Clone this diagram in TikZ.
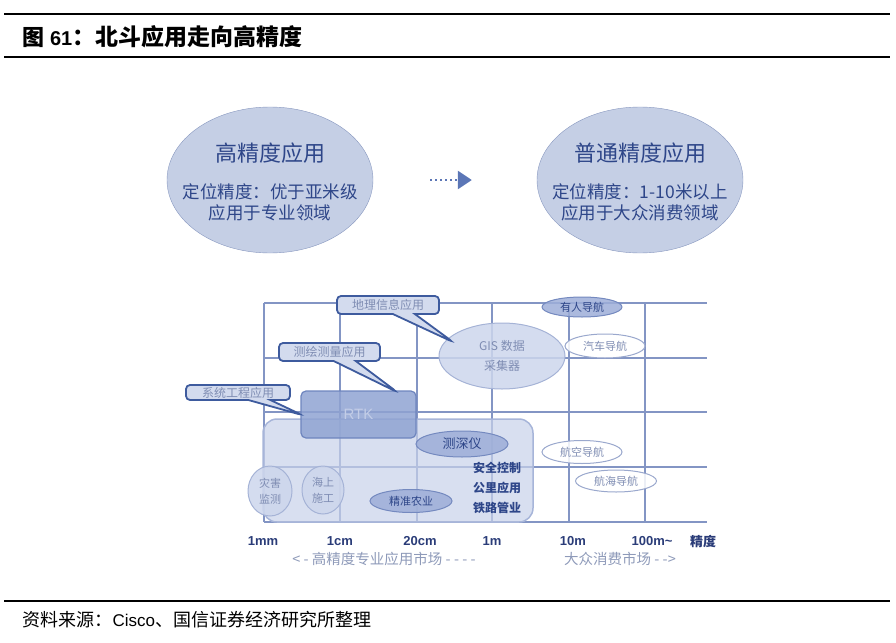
\documentclass[tikz,border=0pt]{standalone}
\usepackage{fontspec}
\setmainfont{Liberation Sans}
\newfontfamily\cjk{Noto Sans CJK SC}
\usetikzlibrary{shapes.geometric, shapes.callouts, arrows.meta}

\definecolor{bigfill}{HTML}{C5CFE5}
\definecolor{bigline}{HTML}{8797BF}
\definecolor{navy}{HTML}{2E4689}
\definecolor{gridblue}{HTML}{8395C4}
\definecolor{zonefill}{HTML}{C8D2EA}
\definecolor{zoneline}{HTML}{A7B5D9}
\definecolor{rtkfill}{HTML}{8FA3D2}
\definecolor{rtkline}{HTML}{6E85BE}
\definecolor{rtktext}{HTML}{C3CDE7}
\definecolor{gisfill}{HTML}{CDD6EC}
\definecolor{gisline}{HTML}{A5B3D6}
\definecolor{darkfill}{HTML}{9DAED8}
\definecolor{darkline}{HTML}{7489BF}
\definecolor{paleline}{HTML}{9AA8CD}
\definecolor{tagfill}{HTML}{D3DBEE}
\definecolor{tagline}{HTML}{3E5B9E}
\definecolor{faint}{HTML}{7F8DB3}
\definecolor{axisblue}{HTML}{2A3C78}
\definecolor{marketgray}{HTML}{8E9AB9}
\definecolor{arrowblue}{HTML}{5B76B6}

\begin{document}
\begin{tikzpicture}[x=1pt,y=-1pt,
    rule/.style={draw=black,line width=1.1pt},
    bigell/.style={ellipse,draw=bigline,fill=bigfill,minimum width=206pt,minimum height=146pt,inner sep=0pt},
    bigtext/.style={align=center,text=navy,font=\cjk\fontsize{17.5}{21}\selectfont},
    dotarrow/.style={draw=arrowblue,line width=2.4pt,dash pattern=on 2pt off 3pt,
                     shorten <=57pt,shorten >=65pt,-{Triangle[length=14pt,width=18pt]}},
    gridline/.style={draw=gridblue,line width=1.8pt},
    zone/.style={draw=zoneline,fill=zonefill,fill opacity=.7,line width=1.5pt,rounded corners=14pt},
    rtkbox/.style={draw=rtkline,fill=rtkfill,fill opacity=.85,text opacity=1,line width=1.2pt,
                   rounded corners=5pt,text=rtktext,font=\fontsize{15}{17}\selectfont},
    dot/.style={ellipse,inner sep=0pt,align=center,line width=1pt,fill opacity=.85,text opacity=1,
                font=\cjk\fontsize{11}{14}\selectfont},
    softdot/.style={dot,draw=gisline,fill=gisfill,text=faint},
    darkdot/.style={dot,draw=darkline,fill=darkfill,text=navy},
    whitedot/.style={dot,draw=paleline,fill=white,text=faint},
    tag/.style={rectangle callout,rounded corners=4pt,draw=tagline,fill=tagfill,line width=1.8pt,
                inner sep=0pt,text=faint,font=\cjk\fontsize{12}{14}\selectfont,callout pointer width=22pt},
    tick/.style={text=axisblue,font=\bfseries\fontsize{13}{15}\selectfont},
    market/.style={text=marketgray,font=\cjk\fontsize{14.5}{16}\selectfont}]

\useasboundingbox (0,0) rectangle (896,642);

% heading and footer
\draw[rule] (4,14) -- (890,14);
\draw[rule] (4,57) -- (890,57);
\node[anchor=west,font=\bfseries\fontsize{20}{24}\selectfont] (title) at (19,37)
  {{\cjk\fontsize{22}{24}\selectfont 图} 61{\cjk\fontsize{23}{24}\selectfont ：北斗应用走向高精度}};
\draw[rule] (4,601) -- (890,601);
\node[anchor=west,font=\fontsize{17}{20}\selectfont] (source) at (19,620)
  {{\cjk\fontsize{18}{20}\selectfont 资料来源：}Cisco{\cjk\fontsize{18}{20}\selectfont 、国信证券经济研究所整理}};

% the two ellipses
\node[bigell] (hi) at (270,180) {};
\node[bigtext,yshift=-2pt] (hitxt) at (hi)
  {{\fontsize{22}{26}\selectfont 高精度应用}\\[16pt]定位精度：优于亚米级\\应用于专业领域};
\node[bigell] (lo) at (640,180) {};
\node[bigtext,yshift=-2pt] (lotxt) at (lo)
  {{\fontsize{22}{26}\selectfont 普通精度应用}\\[16pt]定位精度：1-10米以上\\应用于大众消费领域};
\draw[dotarrow] (hi) -- (lo);

% accuracy grid
\foreach \y in {303,358,412,467,522}
  \draw[gridline] (264,\y) -- (707,\y);
\foreach \x in {264,340,417,492,569,645}
  \draw[gridline] (\x,303) -- (\x,522);

\node[zone,minimum width=270pt,minimum height=103pt] (pro) at (398,470.5) {};
\node[rtkbox,minimum width=115pt,minimum height=47pt] (rtk) at (358.5,414.5) {RTK};

\node[softdot,minimum width=126pt,minimum height=66pt,font=\cjk\fontsize{12}{20}\selectfont] (gis) at (502,356) {GIS 数据\\采集器};
\node[darkdot,minimum width=80pt,minimum height=20pt] (manned) at (582,307) {有人导航};
\node[whitedot,minimum width=80pt,minimum height=24pt] (car) at (605,346) {汽车导航};
\node[darkdot,minimum width=92pt,minimum height=26pt,font=\cjk\fontsize{13}{15}\selectfont] (sounder) at (462,444) {测深仪};
\node[whitedot,minimum width=80pt,minimum height=23pt] (air) at (582,452) {航空导航};
\node[whitedot,minimum width=81pt,minimum height=22pt] (sea) at (616,481) {航海导航};
\node[softdot,minimum width=44pt,minimum height=50pt,font=\cjk\fontsize{11}{16}\selectfont] (disaster) at (270,491) {灾害\\监测};
\node[softdot,minimum width=42pt,minimum height=48pt,font=\cjk\fontsize{11}{16}\selectfont] (offshore) at (323,490) {海上\\施工};
\node[darkdot,minimum width=82pt,minimum height=23pt] (farm) at (411,501) {精准农业};
\node[align=center,text=navy,font=\cjk\bfseries\fontsize{12}{20}\selectfont] (rail) at (497,488)
  {安全控制\\公里应用\\铁路管业};

% callouts
\node[tag,minimum width=102pt,minimum height=18pt,callout absolute pointer={(453,342)}] (geo) at (388,305) {地理信息应用};
\node[tag,minimum width=101pt,minimum height=18pt,callout absolute pointer={(397,392)}] (survey) at (329.5,352) {测绘测量应用};
\node[tag,minimum width=104pt,minimum height=15pt,callout absolute pointer={(302,415)}] (syseng) at (238,392.5) {系统工程应用};

% axis
\node[tick] (mm)   at (263,541) {1mm};
\node[tick] (cm)   at (340,541) {1cm};
\node[tick] (dm)   at (420,541) {20cm};
\node[tick] (m)    at (492,541) {1m};
\node[tick] (tenm) at (573,541) {10m};
\node[tick] (hm)   at (652,541) {100m\textasciitilde};
\node[tick,font=\cjk\bfseries\fontsize{13}{15}\selectfont] (acc) at (703,542) {精度};
\node[market] (promarket) at (384,559) {<\ -\ 高精度专业应用市场\ -\ -\ -\ -};
\node[market] (massmarket) at (620,559) {大众消费市场\ -\ ->};
\end{tikzpicture}
\end{document}
